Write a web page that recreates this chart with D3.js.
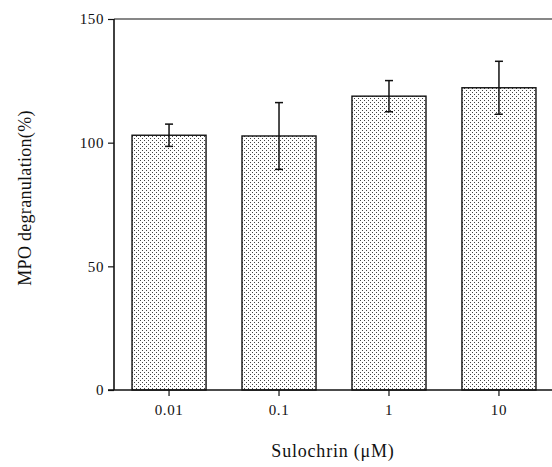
<!DOCTYPE html>
<html>
<head>
<meta charset="utf-8">
<script src="https://cdn.jsdelivr.net/npm/d3@7"></script>
<style>
  html, body { margin: 0; padding: 0; background: #fff; }
  svg text { font-family: "Liberation Serif", "DejaVu Serif", serif; fill: #111; }
</style>
</head>
<body>
<div id="chart"></div>
<script>
// ── Data ─────────────────────────────────────────────────────────
const categories = ['0.01', '0.1', '1', '10'];
const means = [103, 102.7, 118.8, 122.2];
const errors = [4.5, 13.5, 6.3, 10.7];
const yTicks = [0, 50, 100, 150];

// ── Layout ───────────────────────────────────────────────────────
const w = 552, h = 467;
const margin = { left: 114, right: 554, top: 19, bottom: 390 };

const svg = d3.select('#chart')
  .append('svg')
  .attr('width', w)
  .attr('height', h);

const defs = svg.append('defs');
const pat = defs.append('pattern')
  .attr('id', 'stipple')
  .attr('patternUnits', 'userSpaceOnUse')
  .attr('width', 4)
  .attr('height', 4);
pat.append('rect').attr('width', 4).attr('height', 4).attr('fill', '#fff');
pat.append('rect').attr('x', 0).attr('y', 0).attr('width', 1).attr('height', 1).attr('fill', '#444');
pat.append('rect').attr('x', 2).attr('y', 2).attr('width', 1).attr('height', 1).attr('fill', '#444');

const x = d3.scaleBand()
  .domain(categories)
  .range([margin.left, margin.right])
  .paddingInner(0.327)
  .paddingOuter(0.164);

const y = d3.scaleLinear()
  .domain([0, 150])
  .range([margin.bottom, margin.top]);

// Bars
svg.append('g')
  .selectAll('rect')
  .data(categories)
  .enter()
  .append('rect')
  .attr('x', d => x(d))
  .attr('y', (d, i) => y(means[i]))
  .attr('width', x.bandwidth())
  .attr('height', (d, i) => y(0) - y(means[i]))
  .attr('fill', 'url(#stipple)')
  .attr('stroke', '#111')
  .attr('stroke-width', 1.4);

// Error bars
const eb = svg.append('g')
  .attr('stroke', '#111')
  .attr('stroke-width', 1.5);
categories.forEach((c, i) => {
  const cx = x(c) + x.bandwidth() / 2;
  const hi = y(means[i] + errors[i]);
  const lo = y(means[i] - errors[i]);
  eb.append('line').attr('x1', cx).attr('x2', cx).attr('y1', hi).attr('y2', lo);
  eb.append('line').attr('x1', cx - 4).attr('x2', cx + 4).attr('y1', hi).attr('y2', hi);
  eb.append('line').attr('x1', cx - 4).attr('x2', cx + 4).attr('y1', lo).attr('y2', lo);
});

// Top frame line
svg.append('line')
  .attr('x1', margin.left).attr('x2', w)
  .attr('y1', y(150)).attr('y2', y(150))
  .attr('stroke', '#111')
  .attr('stroke-width', 1.2);

// Y axis
const yAxis = svg.append('g')
  .attr('transform', `translate(${margin.left},0)`)
  .call(d3.axisLeft(y).tickValues(yTicks).tickSize(6).tickPadding(4));
yAxis.select('.domain').remove();
yAxis.append('line')
  .attr('x1', 0).attr('x2', 0)
  .attr('y1', y(150)).attr('y2', y(0))
  .attr('stroke', '#111')
  .attr('stroke-width', 1.6);
yAxis.selectAll('.tick line').attr('stroke', '#111').attr('stroke-width', 1.2);
yAxis.selectAll('text')
  .style('font-size', '15px')
  .style('letter-spacing', '0.6px')
  .attr('fill', '#111');

// X axis
const xAxis = svg.append('g')
  .attr('transform', `translate(0,${margin.bottom})`)
  .call(d3.axisBottom(x).tickSize(6).tickPadding(8).tickSizeOuter(0));
xAxis.select('.domain').remove();
xAxis.append('line')
  .attr('x1', margin.left - 6).attr('x2', w)
  .attr('y1', 0).attr('y2', 0)
  .attr('stroke', '#111')
  .attr('stroke-width', 1.6);
xAxis.selectAll('.tick line').attr('stroke', '#111').attr('stroke-width', 1.2);
xAxis.selectAll('text')
  .style('font-size', '15px')
  .style('letter-spacing', '0.6px')
  .attr('fill', '#111');

// Axis titles
svg.append('text')
  .attr('transform', `translate(31,198) rotate(-90)`)
  .attr('text-anchor', 'middle')
  .style('font-size', '18px')
  .style('letter-spacing', '0.3px')
  .text('MPO degranulation(%)');

svg.append('text')
  .attr('x', 333)
  .attr('y', 457)
  .attr('text-anchor', 'middle')
  .style('font-size', '18px')
  .style('letter-spacing', '0.8px')
  .text('Sulochrin (\u03bcM)');
</script>
</body>
</html>
